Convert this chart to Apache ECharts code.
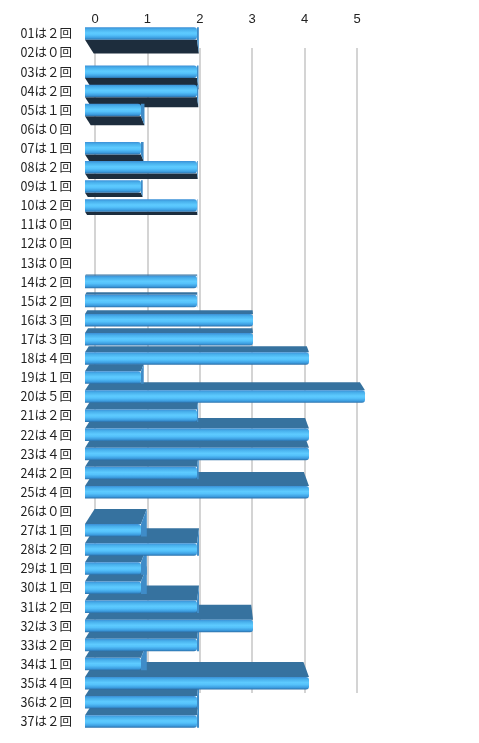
<!DOCTYPE html>
<html>
<head>
<meta charset="utf-8">
<style>
  html, body { margin: 0; padding: 0; background: #fff; }
  #chart { width: 479px; height: 743px; }
</style>
<script src="https://cdn.jsdelivr.net/npm/echarts@6/dist/echarts.min.js"></script>
</head>
<body>
<div id="chart"></div>
<script>
// 回数データ
var numbers = ['01', '02', '03', '04', '05', '06', '07', '08', '09', '10',
  '11', '12', '13', '14', '15', '16', '17', '18', '19', '20',
  '21', '22', '23', '24', '25', '26', '27', '28', '29', '30',
  '31', '32', '33', '34', '35', '36', '37']
var counts = [2, 0, 2, 2, 1, 0, 1, 2, 1, 2,
  0, 0, 0, 2, 2, 3, 3, 4, 1, 5,
  2, 4, 4, 2, 4, 0, 1, 2, 1, 1,
  2, 3, 2, 1, 4, 2, 2]
var tickMax = 5

var fullDigits = '０１２３４５６７８９'
var labels = numbers.map(function(n, i) {
  return n + 'は' + fullDigits[counts[i]] + '回'
})

var chart = echarts.init(document.getElementById('chart'))

// 疑似3D：奥行きの面（上下）と正面
function renderItem(params, api) {
  var idx = api.value(0)
  var v = api.value(1)
  if (!v) return
  var p0 = api.coord([0, idx])
  var p1 = api.coord([v, idx])
  var h = 12.5
  var x0 = p0[0]
  var x1 = p1[0]
  var yc = p0[1]
  var yTop = yc - h / 2
  var yBot = yc + h / 2
  var dy = Math.max(-15, Math.min(16, -0.06 * (yc - 260)))
  var s = Math.abs(dy) * 0.0045
  var shx = function(x) { return x + (227 - x) * s }
  var children = []
  var edgeY = dy > 0 ? yBot : yTop
  children.push({
    type: 'polygon',
    z2: 1,
    shape: { points: [[x0, edgeY], [x1, edgeY], [shx(x1), edgeY + dy], [shx(x0), edgeY + dy]] },
    style: { fill: dy > 0 ? '#1d2d3d' : '#36729f' }
  })
  // 端面
  if (shx(x1) > x1) {
    children.push({
      type: 'polygon',
      z2: 2,
      shape: { points: [[x1, yTop], [x1, yBot], [shx(x1), yBot + (dy > 0 ? dy : 0)], [shx(x1), yTop + (dy < 0 ? dy : 0)]] },
      style: { fill: '#3f8cc8' }
    })
  }
  children.push({
    type: 'rect',
    z2: 10,
    shape: { x: x0, y: yTop, width: x1 - x0, height: h, r: [0, 3, 3, 0] },
    style: {
      fill: new echarts.graphic.LinearGradient(0, 0, 0, 1, [
        { offset: 0, color: '#3b8fd6' },
        { offset: 0.18, color: '#48b0ec' },
        { offset: 0.45, color: '#5ecbff' },
        { offset: 0.62, color: '#55c2fb' },
        { offset: 0.85, color: '#3c9de0' },
        { offset: 1, color: '#2b6fa8' }
      ])
    }
  })
  return { type: 'group', children: children }
}

chart.setOption({
  animation: false,
  grid: [
    { left: 85, top: 24, width: 280, height: 707 },
    { left: 95, top: 48, right: 122, bottom: 50 }
  ],
  xAxis: [
    { type: 'value', gridIndex: 0, min: 0, max: tickMax, show: false },
    {
      type: 'value',
      gridIndex: 1,
      position: 'top',
      min: 0,
      max: tickMax,
      interval: 1,
      axisLine: { show: false },
      axisTick: { show: false },
      axisLabel: { margin: 22, fontSize: 13, color: '#222', fontFamily: 'Liberation Sans' },
      splitLine: { lineStyle: { color: '#c6c6c6', width: 1.5 } }
    }
  ],
  yAxis: [
    {
      type: 'category',
      gridIndex: 0,
      inverse: true,
      data: labels,
      axisLine: { show: false },
      axisTick: { show: false },
      axisLabel: { margin: 13, fontSize: 12.5, color: '#222', fontFamily: 'Noto Sans CJK JP' }
    },
    { type: 'value', gridIndex: 1, min: 0, max: 1, show: false }
  ],
  series: [
    {
      type: 'custom',
      xAxisIndex: 0,
      yAxisIndex: 0,
      renderItem: renderItem,
      encode: { x: 1, y: 0 },
      data: counts.map(function(v, i) { return [i, v] })
    }
  ]
})
</script>
</body>
</html>
